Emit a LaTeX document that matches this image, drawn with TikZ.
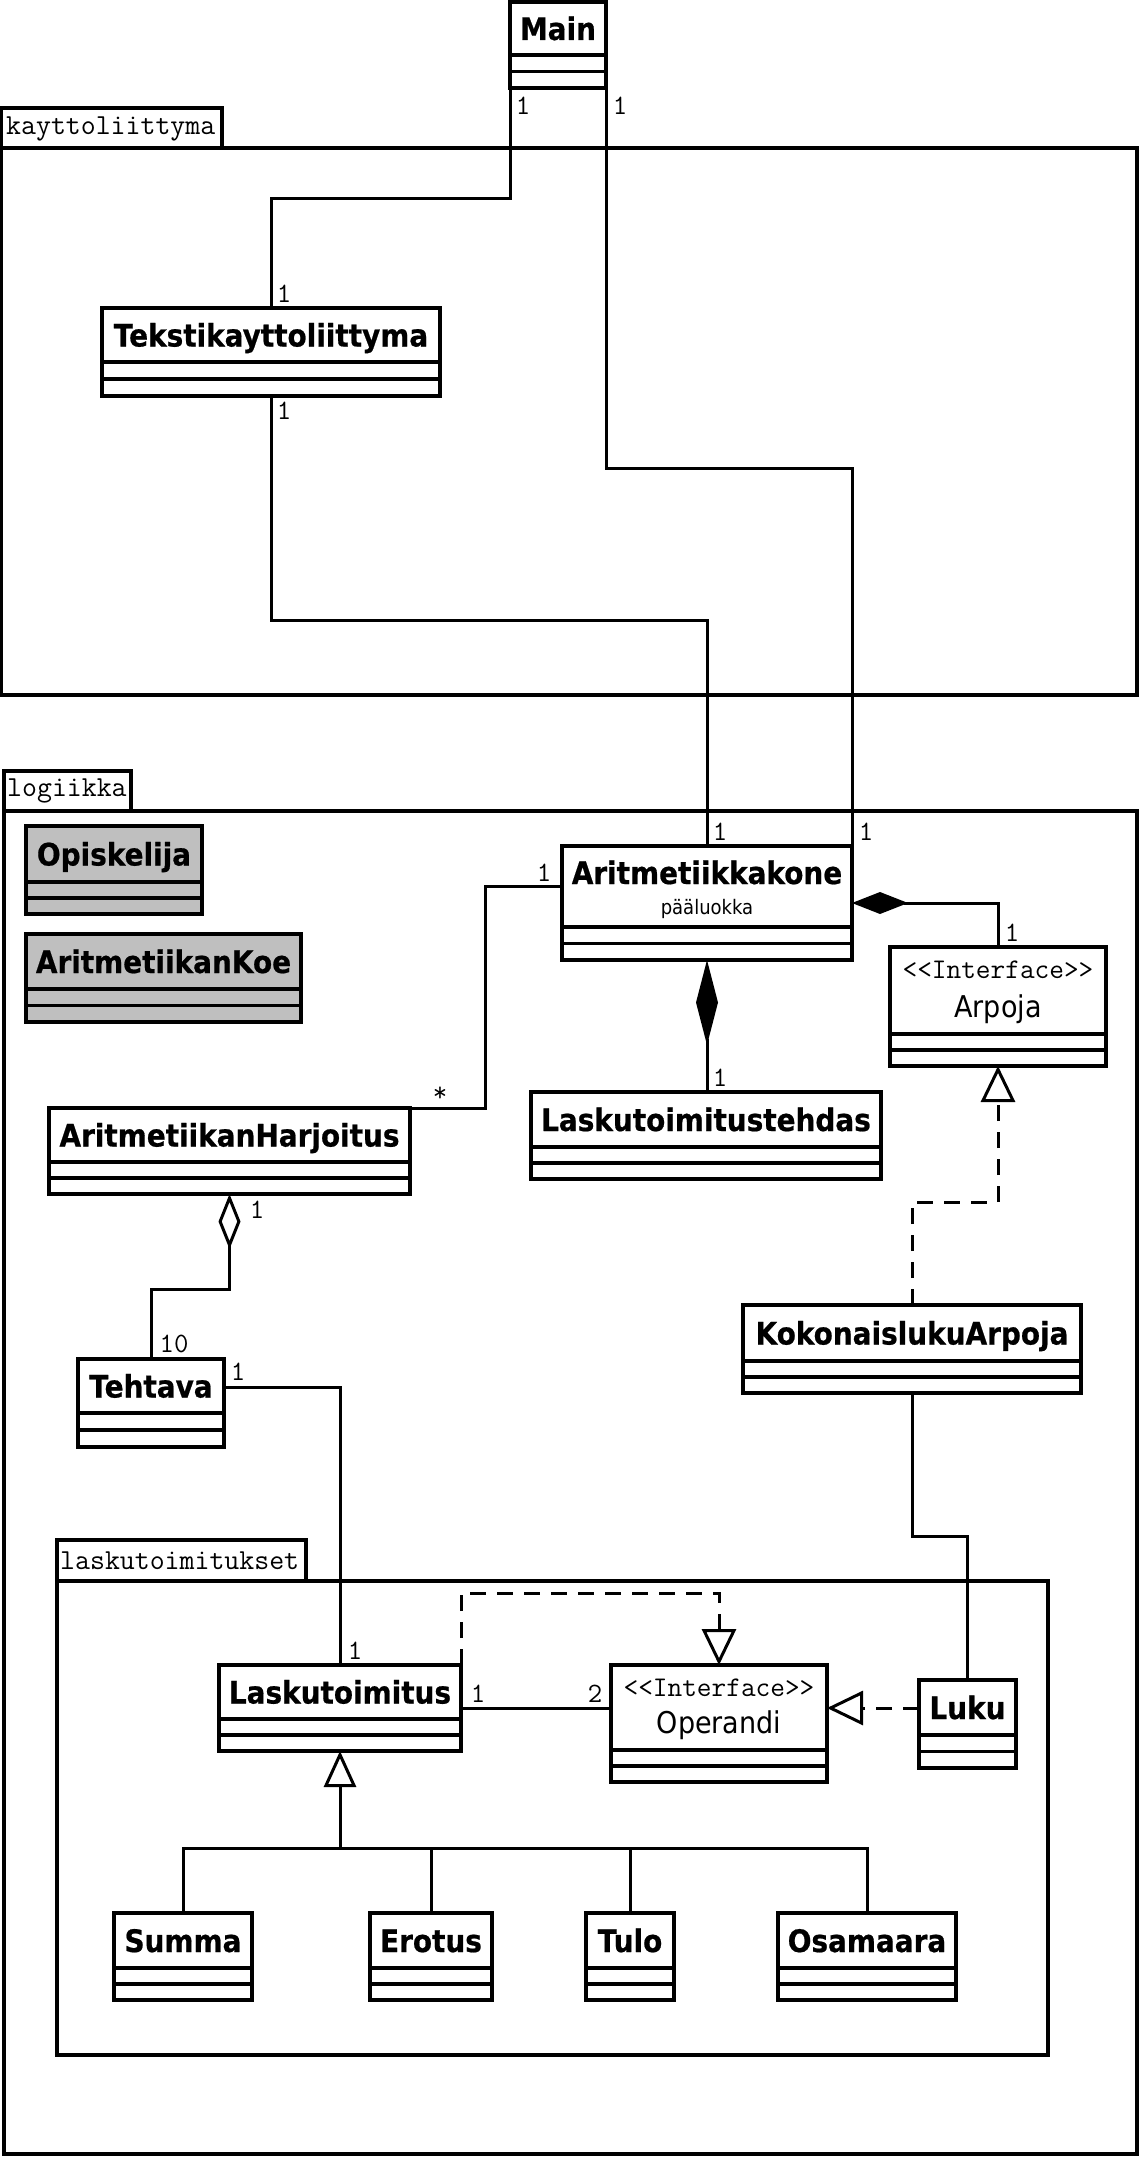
\documentclass[tikz,border=0pt]{standalone}
\usepackage{fontspec}
\usetikzlibrary{arrows.meta}
\newfontfamily\dvc[FakeStretch=0.9, BoldFeatures={FakeBold=0.6}]{DejaVu Sans}
\tikzset{
 box/.style={draw, line width=3.8pt, inner sep=0pt, outer sep=0pt, fill=white},
 divl/.style={line width=3.4pt},
 pkg/.style={draw, line width=3.4pt},
 conn/.style={line width=3pt},
 nm/.style={font=\dvc\bfseries\fontsize{31}{34}\selectfont, inner sep=0pt, anchor=base},
 rg/.style={font=\dvc\fontsize{30}{34}\selectfont, inner sep=0pt, anchor=base},
 sm/.style={font=\dvc\fontsize{20}{24}\selectfont, inner sep=0pt, anchor=base},
 ster/.style={font=\ttfamily\fontsize{28.5}{30}\selectfont, inner sep=0pt, anchor=base},
 mono/.style={font=\ttfamily\fontsize{28}{30}\selectfont, inner sep=0pt},
 tab/.style={font=\ttfamily\fontsize{29}{31}\selectfont, inner sep=0pt, anchor=west},
 dsh/.style={dash pattern=on 16pt off 11pt},
 compoH/.style={conn, {Diamond[length=56pt,width=22pt]}-},
 compoV/.style={conn, {Diamond[length=85pt,width=22pt]}-},
 aggr/.style={conn, {Diamond[open,fill=white,length=55pt,width=22pt]}-},
 real/.style={conn, dsh, -{Triangle[open,fill=white,length=36pt,width=34pt]}},
 gen/.style={conn, -{Triangle[open,fill=white,length=36pt,width=32pt]}},
}
% #1 fill, #2 name, #3 x1, #4 y1, #5 x2, #6 y2, #7 header bottom
\newcommand\umlclass[7][white]{%
  \node[box, fill=#1, minimum width={(#5-#3)*1pt}, minimum height={(#6-#4)*1pt}] (#2) at ({(#3+#5)/2},{(#4+#6)/2}) {};
  \draw[divl] (#3,#7) -- (#5,#7);
  \draw[divl] (#3,{(#7+#6)/2}) -- (#5,{(#7+#6)/2});
}
\begin{document}
\begin{tikzpicture}[x=1pt,y=-1pt]
\useasboundingbox (0,0) rectangle (1139,2157);
% packages
\draw[pkg] (1.7,108) rectangle (222,148);
\node[tab] (pk1) at (6,129) {kayttoliittyma};
\draw[pkg] (1.7,148) rectangle (1137,695);
\draw[pkg] (4,771) rectangle (131,811);
\node[tab] (pk2) at (7,791) {logiikka};
\draw[pkg] (4,811) rectangle (1137,2154);
\draw[pkg] (57,1540) rectangle (306,1581);
\node[tab] (pk3) at (60,1561) {laskutoimitukset};
\draw[pkg] (57,1581) rectangle (1048,2055);

% classes
\umlclass{Main}{510}{2}{606}{88}{55}
\umlclass{Teksti}{102}{308}{440}{396}{362}
\umlclass[gray!50]{Opiskelija}{26}{826}{202}{914}{882}
\umlclass[gray!50]{AKoe}{26}{934}{301}{1022}{989}
\umlclass{Aritm}{562}{846}{852}{960}{927}
\umlclass{Arpoja}{890}{947}{1106}{1066}{1034}
\umlclass{AH}{49}{1108}{410}{1194}{1162}
\umlclass{LT}{531}{1092}{881}{1179}{1147}
\umlclass{KA}{743}{1305}{1081}{1393}{1361}
\umlclass{Tehtava}{78}{1359}{224}{1447}{1413}
\umlclass{Lask}{219}{1665}{461}{1751}{1719}
\umlclass{Operandi}{611}{1665}{827}{1782}{1750}
\umlclass{Luku}{919}{1680}{1016}{1768}{1735}
\umlclass{Summa}{114}{1913}{252}{2000}{1968}
\umlclass{Erotus}{370}{1913}{492}{2000}{1968}
\umlclass{Tulo}{586}{1913}{674}{2000}{1968}
\umlclass{Osamaara}{778}{1913}{956}{2000}{1968}

% class names
\node[nm] (tMain) at (Main.north |- 0,40) {Main};
\node[nm] (tTeksti) at (Teksti.north |- 0,346.5) {Tekstikayttoliittyma};
\node[nm] (tOpis) at (Opiskelija.north |- 0,865.5) {Opiskelija};
\node[nm] (tAKoe) at (AKoe.north |- 0,973) {AritmetiikanKoe};
\node[nm] (tAritm) at (Aritm.north |- 0,884) {Aritmetiikkakone};
\node[sm] (tAritm2) at (Aritm.north |- 0,914) {pääluokka};
\node[ster] (tArp1) at (Arpoja.north |- 0,978) {<<Interface>>};
\node[rg] (tArp2) at (Arpoja.north |- 0,1017) {Arpoja};
\node[nm] (tAH) at (AH.north |- 0,1146.5) {AritmetiikanHarjoitus};
\node[nm] (tLT) at (LT.north |- 0,1131) {Laskutoimitustehdas};
\node[nm] (tKA) at (KA.north |- 0,1344.5) {KokonaislukuArpoja};
\node[nm] (tTeh) at (Tehtava.north |- 0,1397.5) {Tehtava};
\node[nm] (tLask) at (Lask.north |- 0,1703.5) {Laskutoimitus};
\node[ster] (tOp1) at (Operandi.north |- 0,1696) {<<Interface>>};
\node[rg] (tOp2) at (Operandi.north |- 0,1733) {Operandi};
\node[nm] (tLuku) at (Luku.north |- 0,1719) {Luku};
\node[nm] (tSumma) at (Summa.north |- 0,1952) {Summa};
\node[nm] (tErotus) at (Erotus.north |- 0,1952) {Erotus};
\node[nm] (tTulo) at (Tulo.north |- 0,1952) {Tulo};
\node[nm] (tOsa) at (Osamaara.north |- 0,1952) {Osamaara};

% connectors
\draw[conn] (Main.south west) -- (Main.south west |- 0,198) -| (Teksti.north);
\draw[conn] (Main.south east) -- (Main.south east |- 0,468) -| (Aritm.north east);
\draw[conn] (Teksti.south) -- (Teksti.south |- 0,620) -| (Aritm.north);
\draw[conn] (Aritm.west |- 0,886) -| (485,1108) -- (AH.north east);
\draw[compoV] (Aritm.south) -- (Aritm.south |- LT.north);
\draw[compoH] (Aritm.east) -| (Arpoja.north);
\draw[real] (KA.north) -- (KA.north |- 0,1202) -| (Arpoja.south);
\draw[aggr] (AH.south) -- (AH.south |- 0,1289) -| (Tehtava.north);
\draw[conn] (Tehtava.east |- 0,1387) -| (Lask.north);
\draw[conn] (KA.south) -- (KA.south |- 0,1536) -| (Luku.north);
\draw[real] (Lask.north east) -- (Lask.north east |- 0,1593) -| (Operandi.north);
\draw[conn] (Lask.east) -- (Lask.east -| Operandi.west);
\draw[real] (Luku.west |- 0,1708) -- (Operandi.east |- 0,1708);
\draw[gen] (Lask.south |- 0,1848) -- (Lask.south);
\draw[conn] (Summa.north) |- (Osamaara.north |- 0,1848) -- (Osamaara.north);
\draw[conn] (Erotus.north) -- (Erotus.north |- 0,1848);
\draw[conn] (Tulo.north) -- (Tulo.north |- 0,1848);

% multiplicities
\node[mono] (m1) at (523,106) {1};
\node[mono] (m2) at (620,106) {1};
\node[mono] (m3) at (284,294) {1};
\node[mono] (m4) at (284,411) {1};
\node[mono] (m5) at (720,832) {1};
\node[mono] (m6) at (866,832) {1};
\node[mono] (m7) at (544,873) {1};
\node[mono] (m8) at (440,1094) {*};
\node[mono] (m9) at (720,1078) {1};
\node[mono] (m10) at (1012,933) {1};
\node[mono] (m11) at (257,1210) {1};
\node[mono] (m12) at (174,1344) {10};
\node[mono] (m13) at (238,1372) {1};
\node[mono] (m14) at (355,1651) {1};
\node[mono] (m15) at (478,1694) {1};
\node[mono] (m16) at (595,1694) {2};
\end{tikzpicture}
\end{document}
